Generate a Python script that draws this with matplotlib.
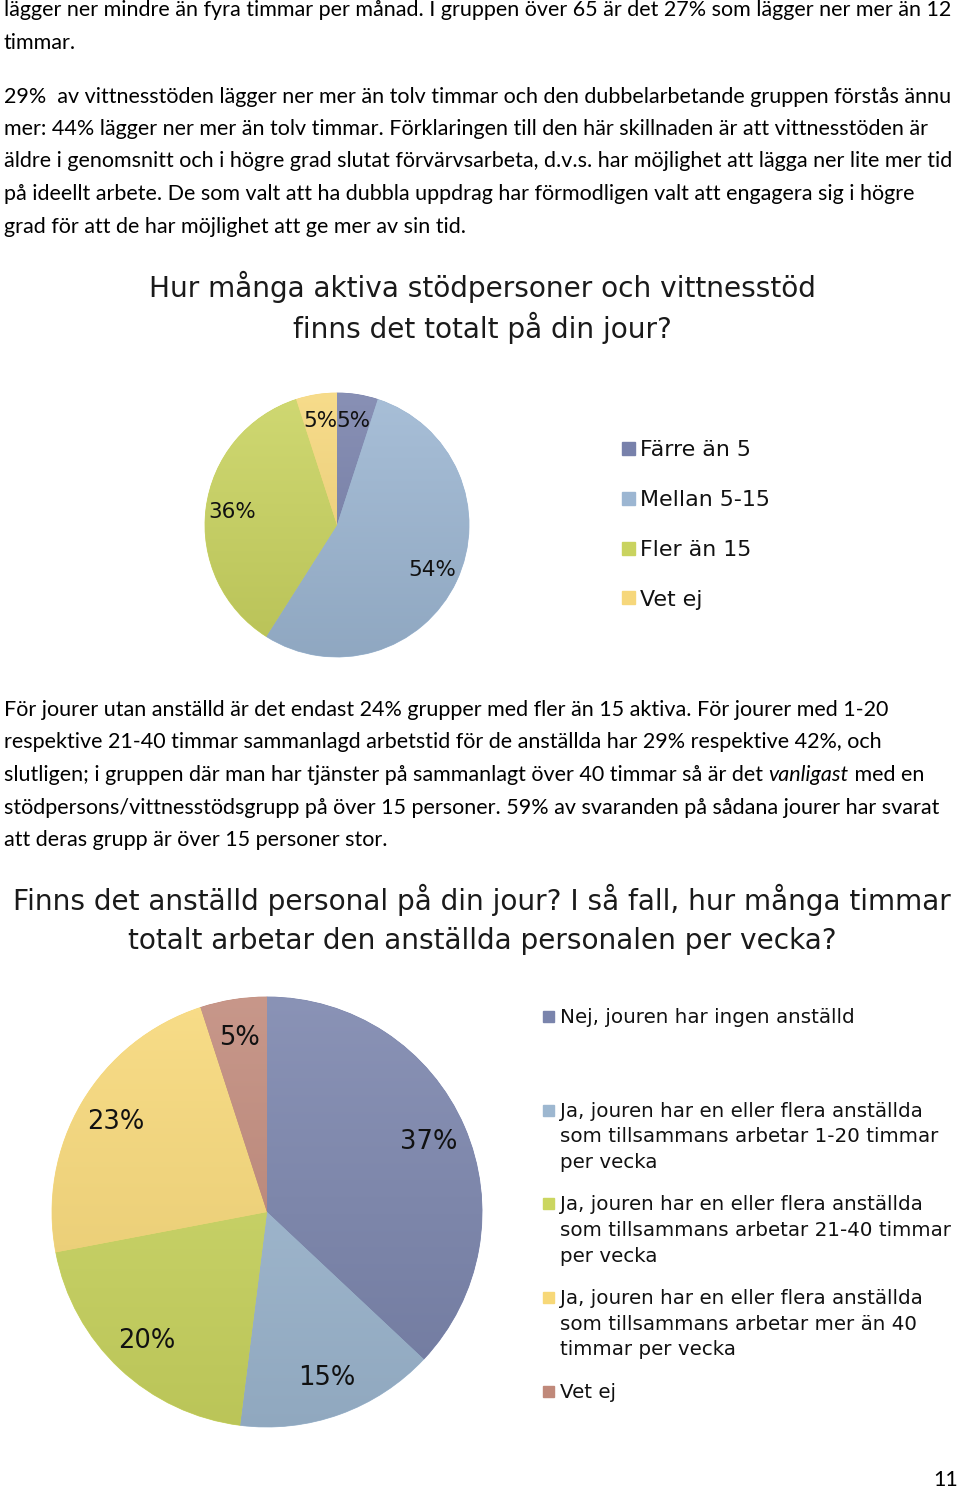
import matplotlib
matplotlib.use("Agg")
import matplotlib.pyplot as plt
import numpy as np
from matplotlib.patches import Rectangle
from matplotlib.colors import LinearSegmentedColormap, to_rgb

W, H = 960, 1491

# --- data ---
labels1 = ["Färre än 5", "Mellan 5-15", "Fler än 15", "Vet ej"]
values1 = [5, 54, 36, 5]
colors1 = ["#7881ab", "#9cb6d2", "#c9d35f", "#f6d77b"]

labels2 = ["Nej, jouren har ingen anställd",
           "Ja, jouren har en eller flera anställda\nsom tillsammans arbetar 1-20 timmar\nper vecka",
           "Ja, jouren har en eller flera anställda\nsom tillsammans arbetar 21-40 timmar\nper vecka",
           "Ja, jouren har en eller flera anställda\nsom tillsammans arbetar mer än 40\ntimmar per vecka",
           "Vet ej"]
values2 = [37, 15, 20, 23, 5]
colors2 = ["#7a84ac", "#9db7d0", "#cbd660", "#f7d878", "#c0897a"]

title1 = ["Hur många aktiva stödpersoner och vittnesstöd", "finns det totalt på din jour?"]
title2 = ["Finns det anställd personal på din jour? I så fall, hur många timmar",
          "totalt arbetar den anställda personalen per vecka?"]

para1 = [
    (10, "lägger ner mindre än fyra timmar per månad. I gruppen över 65 är det 27% som lägger ner mer än 12"),
    (43, "timmar."),
    (97, "29%  av vittnesstöden lägger ner mer än tolv timmar och den dubbelarbetande gruppen förstås ännu"),
    (129, "mer: 44% lägger ner mer än tolv timmar. Förklaringen till den här skillnaden är att vittnesstöden är"),
    (161, "äldre i genomsnitt och i högre grad slutat förvärvsarbeta, d.v.s. har möjlighet att lägga ner lite mer tid"),
    (194, "på ideellt arbete. De som valt att ha dubbla uppdrag har förmodligen valt att engagera sig i högre"),
    (227, "grad för att de har möjlighet att ge mer av sin tid."),
]
para2 = [
    (710, "För jourer utan anställd är det endast 24% grupper med fler än 15 aktiva. För jourer med 1-20"),
    (742, "respektive 21-40 timmar sammanlagd arbetstid för de anställda har 29% respektive 42%, och"),
    (808, "stödpersons/vittnesstödsgrupp på över 15 personer. 59% av svaranden på sådana jourer har svarat"),
    (840, "att deras grupp är över 15 personer stor."),
]
italic_line = (775, ["slutligen; i gruppen där man har tjänster på sammanlagt över 40 timmar så är det ",
                     "vanligast", " med en"])

BODY = "Lato"
CHART = "DejaVu Sans"
BODY_SIZE = 15.5


def fx(x):
    return x / W


def fy(y):
    return 1 - y / H


def shade(c, f):
    r, g, b = to_rgb(c)
    if f > 0:
        return (r + (1 - r) * f, g + (1 - g) * f, b + (1 - b) * f)
    return (r * (1 + f), g * (1 + f), b * (1 + f))


def draw_pie(ax, values, colors, pctdist, size):
    wedges, _, autos = ax.pie(values, colors=colors, startangle=90, counterclock=False,
                              autopct=lambda p: "%.0f%%" % p, pctdistance=pctdist,
                              wedgeprops=dict(linewidth=0.6))
    grad = np.linspace(0, 1, 256).reshape(-1, 1)
    for w, c in zip(wedges, colors):
        w.set_edgecolor(c)
        cm = LinearSegmentedColormap.from_list("g", [shade(c, 0.12), shade(c, -0.08)])
        ax.imshow(grad, cmap=cm, extent=(-1, 1, -1, 1), aspect="auto", origin="upper",
                  clip_path=w, zorder=1.5)
    for a in autos:
        a.set_family(CHART)
        a.set_fontsize(size)
        a.set_color("#111111")
    ax.set_xlim(-1, 1)
    ax.set_ylim(-1, 1)
    ax.set_axis_off()


fig = plt.figure(figsize=(W / 100, H / 100), dpi=100)
fig.patch.set_facecolor("white")

# body text
for y, line in para1 + para2:
    fig.text(fx(4), fy(y), line, family=BODY, fontsize=BODY_SIZE, va="center", ha="left")

# line with the italic word
fig.canvas.draw()
r = fig.canvas.get_renderer()
x = 4
for i, part in enumerate(italic_line[1]):
    t = fig.text(fx(x), fy(italic_line[0]), part, family=BODY, fontsize=BODY_SIZE, va="center",
                 ha="left", style="italic" if i == 1 else "normal")
    x += t.get_window_extent(renderer=r).width

# titles, one line at a time
for y0, lines in [(287, title1), (900, title2)]:
    for k, line in enumerate(lines):
        fig.text(fx(482), fy(y0 + k * 41), line, family=CHART, fontsize=20.2, ha="center",
                 va="center", color="#1a1a1a")

# pie 1
cx, cy, rad = 337, 525, 132
ax1 = fig.add_axes([fx(cx - rad), fy(cy + rad), 2 * rad / W, 2 * rad / H])
draw_pie(ax1, values1, colors1, 0.8, 15.5)

# legend 1
for i, (lab, c) in enumerate(zip(labels1, colors1)):
    yy = 448 + i * 50
    fig.patches.append(Rectangle((fx(622), fy(yy + 6.5)), 13 / W, 13 / H, color=c,
                                 transform=fig.transFigure, figure=fig))
    fig.text(fx(640), fy(yy + 7.5), lab, family=CHART, fontsize=15.9, va="baseline", ha="left",
             color="#111111")

# pie 2
cx, cy, rad = 267, 1212, 215
ax2 = fig.add_axes([fx(cx - rad), fy(cy + rad), 2 * rad / W, 2 * rad / H])
draw_pie(ax2, values2, colors2, 0.82, 18.5)

# legend 2
for i, (lab, c) in enumerate(zip(labels2, colors2)):
    yy = 1016.5 + i * 93.7
    fig.patches.append(Rectangle((fx(543), fy(yy + 5.5)), 11 / W, 11 / H, color=c,
                                 transform=fig.transFigure, figure=fig))
    fig.text(fx(560), fy(yy - 8.5), lab, family=CHART, fontsize=14.3, va="top", ha="left",
             color="#111111", linespacing=1.44)

# page number
fig.text(fx(958), fy(1480), "11", family=BODY, fontsize=BODY_SIZE, ha="right", va="center")

fig.savefig("out.png", dpi=100)
